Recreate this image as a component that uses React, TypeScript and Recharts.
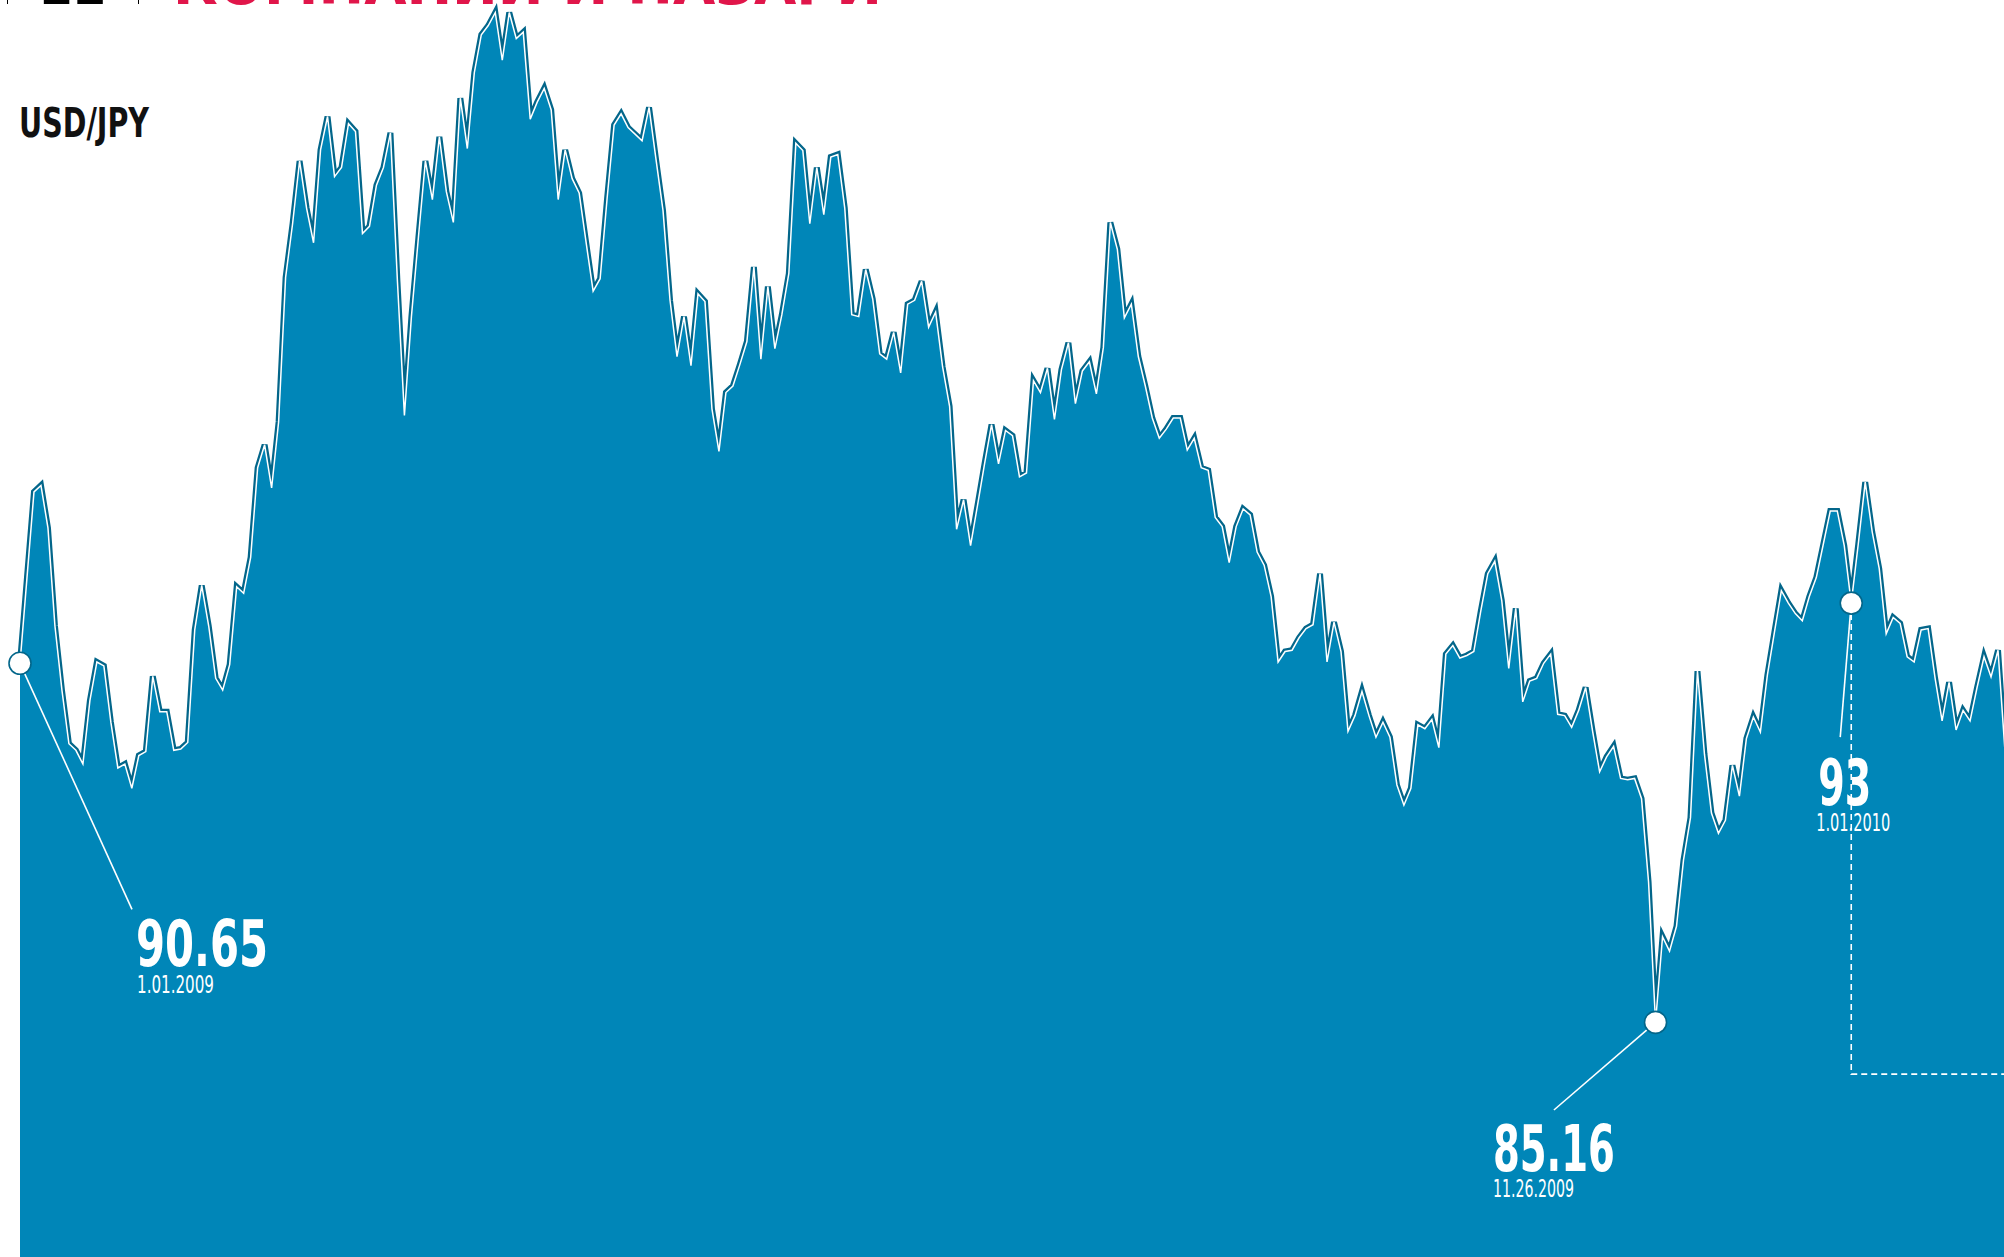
import React from 'react';
import { AreaChart, Area, XAxis, YAxis, ReferenceDot } from 'recharts';

// USD/JPY daily close, trading days from 1.01.2009 into January 2010
const rates: number[] = [
  90.65, 91.96, 93.27, 93.37, 92.72, 91.22, 90.24, 89.42, 89.32, 89.11,
  90.08, 90.67, 90.61, 89.75, 89.05, 89.11, 88.74, 89.24, 89.30, 90.45,
  89.91, 89.91, 89.32, 89.34, 89.44, 91.16, 91.84, 91.22, 90.42, 90.24,
  90.63, 91.82, 91.72, 92.27, 93.64, 93.99, 93.33, 94.34, 96.55, 97.37,
  98.33, 97.61, 97.08, 98.50, 99.01, 98.09, 98.23, 98.90, 98.78, 97.22,
  97.33, 97.96, 98.23, 98.76, 96.49, 94.44, 95.95, 97.16, 98.33, 97.74,
  98.70, 97.86, 97.39, 99.29, 98.52, 99.68, 100.26, 100.40, 100.60, 99.87,
  100.60, 100.20, 100.30, 98.97, 99.23, 99.44, 99.11, 97.74, 98.50, 98.06,
  97.84, 97.08, 96.34, 96.53, 97.76, 98.88, 99.05, 98.84, 98.74, 98.64,
  99.15, 98.35, 97.57, 96.20, 95.34, 95.95, 95.20, 96.30, 96.18, 94.54,
  93.89, 94.79, 94.89, 95.22, 95.57, 96.71, 95.30, 96.41, 95.46, 95.98,
  96.61, 98.60, 98.49, 97.37, 98.23, 97.51, 98.39, 98.43, 97.61, 95.98,
  95.95, 96.67, 96.22, 95.38, 95.30, 95.71, 95.09, 96.14, 96.20, 96.49,
  95.79, 96.02, 95.18, 94.58, 92.70, 93.15, 92.45, 93.07, 93.70, 94.30,
  93.70, 94.21, 94.13, 93.50, 93.56, 94.97, 94.79, 95.16, 94.38, 95.14,
  95.55, 94.62, 95.12, 95.26, 94.77, 95.48, 97.39, 96.98, 95.93, 96.14,
  95.34, 94.89, 94.40, 94.09, 94.23, 94.40, 94.40, 93.91, 94.09, 93.64,
  93.60, 92.88, 92.74, 92.19, 92.74, 93.01, 92.92, 92.35, 92.15, 91.67,
  90.67, 90.83, 90.85, 91.04, 91.18, 91.24, 92.02, 90.67, 91.28, 90.83,
  89.61, 89.85, 90.22, 89.85, 89.52, 89.75, 89.52, 88.79, 88.48, 88.74,
  89.71, 89.65, 89.79, 89.36, 90.79, 90.92, 90.73, 90.77, 90.83, 91.45,
  92.02, 92.21, 91.61, 90.57, 91.49, 90.06, 90.38, 90.42, 90.65, 90.79,
  89.87, 89.85, 89.67, 89.93, 90.28, 89.61, 88.99, 89.22, 89.38, 88.89,
  88.87, 88.89, 88.58, 87.31, 85.16, 86.47, 86.25, 86.63, 87.64, 88.29,
  90.53, 89.26, 88.36, 88.05, 88.25, 89.09, 88.62, 89.50, 89.83, 89.60,
  90.47, 91.12, 91.76, 91.57, 91.41, 91.30, 91.67, 91.96, 92.47, 92.98,
  92.98, 92.45, 91.57, 92.47, 93.42, 92.66, 92.10, 91.10, 91.35, 91.26,
  90.75, 90.67, 91.16, 91.18, 90.42, 89.77, 90.36, 89.63, 89.93, 89.77,
  90.28, 90.75, 90.44, 90.85, 89.30, 88.90,
];

// trading-day index used as the category of each point
const days: number[] = rates.map((_, i) => i);

// highlighted points
const keyDays: number[] = [0, 234, 262];
const keyValues: number[] = [90.65, 85.16, 91.57];
const keyLabels: string[] = ['90.65', '85.16', '93'];
const keyDates: string[] = ['1.01.2009', '11.26.2009', '1.01.2010'];

const title = 'USD/JPY';
const sectionTitle = 'КОМПАНИИ И ПАЗАРИ';
const pageNumber = '22';

const data = days.map((d, i) => ({ day: d, rate: rates[i] }));

const FILL = '#0086b8';
const DARK = '#03668a';
const FONT = "'Liberation Sans Narrow', 'DejaVu Sans Condensed', 'Roboto Condensed', 'Open Sans', sans-serif";

// label placement (pixel offsets from the marker centre)
type Layout = {
  leader: [number, number];
  label: [number, number, number];
  date: [number, number, number];
  guide: boolean;
};
const layouts: Layout[] = [
  { leader: [112, 246], label: [116, 303, 132], date: [117, 330, 77], guide: false },
  { leader: [-101.6, 87.6], label: [-162.6, 148.6, 122], date: [-162.6, 174.6, 81], guide: false },
  { leader: [-11, 134], label: [-33, 202, 53], date: [-35, 228, 74], guide: true },
];

const R = 11;

function makeMarker(idx: number) {
  const lay = layouts[idx];
  return (props: any) => {
    const cx = Number(props.cx);
    const cy = Number(props.cy);
    const [lx, ly] = lay.leader;
    const len = Math.sqrt(lx * lx + ly * ly);
    const sx = cx + (lx / len) * R;
    const sy = cy + (ly / len) * R;
    return (
      <g>
        {lay.guide && (
          <polyline
            points={`${cx},${cy + R} ${cx},${cy + 471} ${cx + 400},${cy + 471}`}
            fill="none"
            stroke="#ffffff"
            strokeWidth={1.6}
            strokeDasharray="6 4"
          />
        )}
        <line x1={sx} y1={sy} x2={cx + lx} y2={cy + ly} stroke="#ffffff" strokeWidth={1.6} />
        <circle cx={cx} cy={cy} r={R} fill="#ffffff" stroke={DARK} strokeWidth={1.6} />
        <text
          x={cx + lay.label[0]}
          y={cy + lay.label[1]}
          fill="#ffffff"
          fontFamily={FONT}
          fontWeight={700}
          fontSize={64}
          textLength={lay.label[2]}
          lengthAdjust="spacingAndGlyphs"
        >
          {keyLabels[idx]}
        </text>
        <text
          x={cx + lay.date[0]}
          y={cy + lay.date[1]}
          fill="#ffffff"
          fontFamily={FONT}
          fontWeight={400}
          fontSize={24}
          textLength={lay.date[2]}
          lengthAdjust="spacingAndGlyphs"
        >
          {keyDates[idx]}
        </text>
      </g>
    );
  };
}

export default function App() {
  return (
    <div
      style={{
        position: 'fixed',
        left: 0,
        top: 0,
        width: 2004,
        height: 1257,
        overflow: 'hidden',
        background: '#ffffff',
      }}
    >
      <div style={{ position: 'absolute', left: 0, top: 0 }}>
        <AreaChart width={2012} height={1257} data={data} margin={{ top: 0, right: 0, bottom: 0, left: 20 }}>
          <XAxis dataKey="day" type="category" hide />
          <YAxis type="number" domain={[81.573, 100.791]} hide allowDataOverflow />
          <Area
            dataKey="rate"
            type="linear"
            stroke={DARK}
            strokeWidth={6}
            fill="none"
            dot={false}
            activeDot={false}
            isAnimationActive={false}
          />
          <Area
            dataKey="rate"
            type="linear"
            stroke="#ffffff"
            strokeWidth={1.5}
            fill={FILL}
            fillOpacity={1}
            dot={false}
            activeDot={false}
            isAnimationActive={false}
          />
          {keyDays.map((d, i) => (
            <ReferenceDot
              key={d}
              x={d}
              y={keyValues[i]}
              r={R}
              ifOverflow="visible"
              shape={makeMarker(i)}
            />
          ))}
        </AreaChart>
      </div>
      <svg
        width={2004}
        height={200}
        style={{ position: 'absolute', left: 0, top: 0, overflow: 'visible', pointerEvents: 'none' }}
      >
        <line x1={7.5} y1={0} x2={7.5} y2={4} stroke="#000000" strokeWidth={1} />
        <line x1={138.5} y1={0} x2={138.5} y2={4} stroke="#000000" strokeWidth={1} />
        <text x={40} y={4} fontFamily={FONT} fontWeight={700} fontSize={60} fill="#000000" textLength={67} lengthAdjust="spacingAndGlyphs">
          {pageNumber}
        </text>
        <text x={173} y={4} fontFamily={FONT} fontWeight={700} fontSize={60} fill="#e0164a" textLength={709} lengthAdjust="spacingAndGlyphs">
          {sectionTitle}
        </text>
        <text x={19} y={137} fontFamily={FONT} fontWeight={700} fontSize={41} fill="#111111" textLength={130} lengthAdjust="spacingAndGlyphs">
          {title}
        </text>
      </svg>
    </div>
  );
}
